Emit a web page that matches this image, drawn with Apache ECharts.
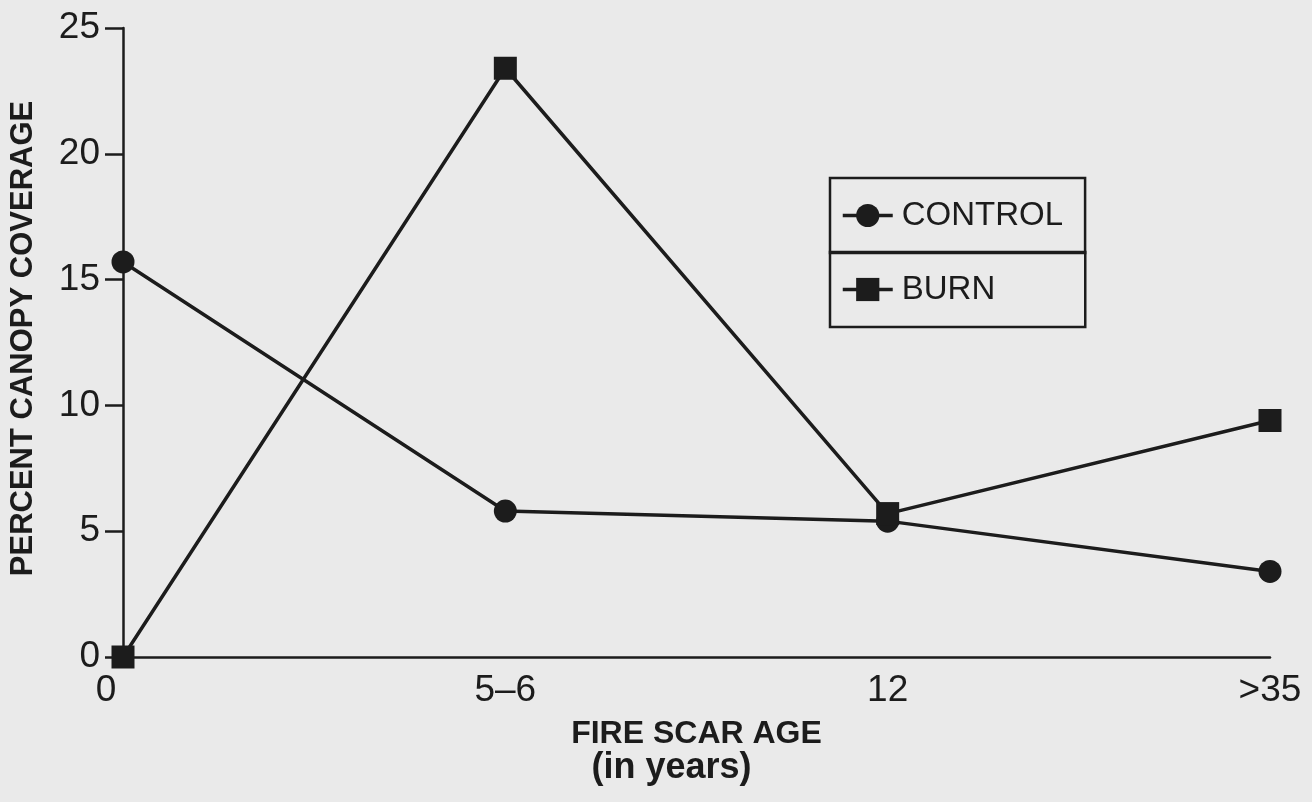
<!DOCTYPE html>
<html>
<head>
<meta charset="utf-8">
<script src="https://cdn.jsdelivr.net/npm/echarts@6/dist/echarts.min.js"></script>
<style>
html,body{margin:0;padding:0;background:#eaeaea;}
#chart{width:1312px;height:802px;}
</style>
</head>
<body>
<div id="chart"></div>
<script>
var categories = ['0', '5–6', '12', '>35'];
var controlValues = [15.7, 5.8, 5.4, 3.4];
var burnValues = [0, 23.4, 5.7, 9.4];
var yTicks = { min: 0, max: 25, interval: 5 };

var ink = '#1c1c1c';
var chart = echarts.init(document.getElementById('chart'), null, { renderer: 'canvas' });
var font = '"Liberation Sans", Arial, sans-serif';

function legendBox(name, top, padRight) {
  return {
    data: [name],
    orient: 'vertical',
    left: 830,
    top: top,
    padding: [21, padRight, 21, 11],
    itemWidth: 50,
    itemHeight: 29,
    itemGap: 0,
    borderColor: ink,
    borderWidth: 2.5,
    lineStyle: { width: 3.5 },
    textStyle: { color: ink, fontSize: 33, fontFamily: font, padding: [0, 0, 0, 4] }
  };
}

chart.setOption({
  backgroundColor: '#eaeaea',
  animation: false,
  textStyle: { fontFamily: font, color: ink },
  grid: { left: 123, right: 42, top: 28, bottom: 145, containLabel: false },
  legend: [
    legendBox('CONTROL', 178, 22),
    legendBox('BURN', 252, 90)
  ],
  xAxis: {
    type: 'category',
    data: categories,
    boundaryGap: false,
    axisLine: { lineStyle: { color: ink, width: 2.5 } },
    axisTick: { show: false },
    splitLine: { show: false },
    axisLabel: {
      color: ink, fontSize: 37, fontFamily: font, margin: 15,
      formatter: function (v, i) { return i === 0 ? '{a|' + v + '}' : v; },
      rich: { a: { fontSize: 37, fontFamily: font, color: ink, padding: [0, 34, 0, 0] } }
    },
    name: '{a|FIRE SCAR AGE}\n{b|(in years)}',
    nameLocation: 'middle',
    nameGap: 60,
    nameTextStyle: {
      color: ink, fontSize: 32, fontWeight: 'bold', fontFamily: font,
      rich: {
        a: { fontSize: 32, fontWeight: 'bold', fontFamily: font, color: ink, lineHeight: 34 },
        b: { fontSize: 36, fontWeight: 'bold', fontFamily: font, color: ink, lineHeight: 34, padding: [0, 50, 0, 0] }
      }
    }
  },
  yAxis: {
    type: 'value',
    min: yTicks.min,
    max: yTicks.max,
    interval: yTicks.interval,
    axisLine: { show: true, lineStyle: { color: ink, width: 2.5 } },
    axisTick: { show: true, length: 18, lineStyle: { color: ink, width: 2.5 } },
    splitLine: { show: false },
    axisLabel: { color: ink, fontSize: 37, fontFamily: font, margin: 23 },
    name: 'PERCENT CANOPY COVERAGE',
    nameLocation: 'middle',
    nameGap: 84,
    nameTextStyle: { color: ink, fontSize: 31, fontWeight: 'bold', fontFamily: font, padding: [0, 0, 0, 8] }
  },
  series: [
    {
      name: 'CONTROL',
      type: 'line',
      data: controlValues,
      symbol: 'circle',
      symbolSize: 23,
      lineStyle: { color: ink, width: 3.5 },
      itemStyle: { color: ink }
    },
    {
      name: 'BURN',
      type: 'line',
      data: burnValues,
      symbol: 'rect',
      symbolSize: 23,
      lineStyle: { color: ink, width: 3.5 },
      itemStyle: { color: ink }
    }
  ]
});
</script>
</body>
</html>
